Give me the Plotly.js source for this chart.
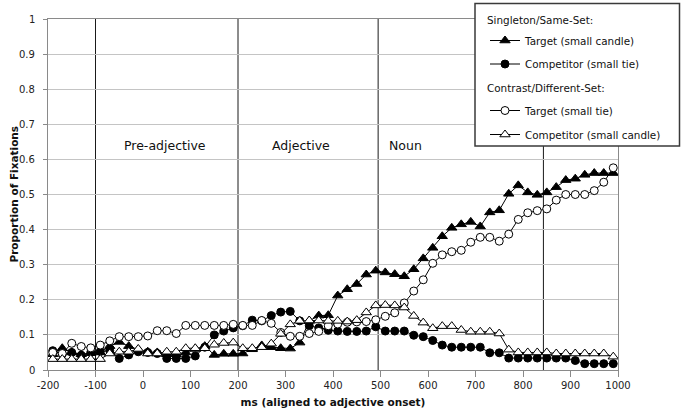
<!DOCTYPE html>
<html>
<head>
<meta charset="utf-8">
<script src="https://cdn.plot.ly/plotly-3.0.1.min.js"></script>
<style>
html,body{margin:0;padding:0;background:#fff;}
#chart{width:683px;height:414px;}
</style>
</head>
<body>
<div id="chart"></div>
<script>
// ---- data ----
const timeMs = [-190,-170,-150,-130,-110,-90,-70,-50,-30,-10,10,30,50,70,90,110,130,150,170,190,
  210,230,250,270,290,310,330,350,370,390,410,430,450,470,490,510,530,550,570,590,
  610,630,650,670,690,710,730,750,770,790,810,830,850,870,890,910,930,950,970,990];

const ssTarget = [0.045,0.062,0.05,0.045,0.048,0.05,0.068,0.08,0.068,0.058,0.052,0.05,0.045,0.045,0.05,0.06,0.068,0.043,0.046,0.046,
  0.047,0.059,0.07,0.065,0.062,0.061,0.078,0.14,0.155,0.156,0.212,0.23,0.245,0.272,0.283,0.278,0.273,0.267,0.287,0.318,
  0.348,0.381,0.405,0.415,0.422,0.409,0.449,0.455,0.502,0.526,0.506,0.499,0.506,0.521,0.541,0.545,0.556,0.561,0.561,0.561];

const ssCompetitor = [0.055,0.045,0.05,0.042,0.05,0.053,0.055,0.033,0.043,0.052,0.05,0.047,0.033,0.033,0.033,0.04,0.065,0.1,0.111,0.12,
  0.126,0.142,0.14,0.155,0.165,0.167,0.14,0.126,0.12,0.113,0.111,0.11,0.11,0.111,0.123,0.111,0.111,0.111,0.099,0.095,
  0.084,0.071,0.065,0.065,0.065,0.065,0.049,0.049,0.034,0.034,0.034,0.034,0.034,0.034,0.034,0.027,0.018,0.018,0.018,0.018];

const cdTarget = [0.05,0.047,0.076,0.067,0.063,0.071,0.083,0.095,0.095,0.095,0.097,0.112,0.112,0.104,0.127,0.127,0.127,0.127,0.127,0.13,
  0.127,0.127,0.141,0.133,0.107,0.096,0.096,0.104,0.11,0.126,0.131,0.136,0.137,0.138,0.143,0.153,0.163,0.191,0.225,0.257,
  0.304,0.328,0.337,0.341,0.364,0.378,0.378,0.367,0.387,0.429,0.448,0.454,0.459,0.484,0.5,0.5,0.5,0.511,0.535,0.576];

const cdCompetitor = [0.031,0.031,0.031,0.031,0.031,0.031,0.047,0.052,0.052,0.06,0.047,0.047,0.052,0.052,0.062,0.062,0.062,0.072,0.077,0.078,
  0.062,0.062,0.065,0.075,0.103,0.13,0.14,0.141,0.141,0.14,0.14,0.138,0.142,0.164,0.184,0.185,0.184,0.178,0.154,0.135,
  0.119,0.125,0.125,0.114,0.109,0.109,0.109,0.104,0.058,0.05,0.05,0.05,0.05,0.047,0.047,0.047,0.047,0.047,0.047,0.038];

const seriesNames = ["Target (small candle)","Competitor (small tie)","Target (small tie)","Competitor (small candle)"];
const groupTitles = ["Singleton/Same-Set:","Contrast/Different-Set:"];
const xTickVals = [-200,-100,0,100,200,300,400,500,600,700,800,900,1000];
const xTickText = ["-200","-100","0","100","200","300","400","500","600","700","800","900","1000"];
const yTickVals = [0,0.1,0.2,0.3,0.4,0.5,0.6,0.7,0.8,0.9,1];
const yTickText = ["0","0.1","0.2","0.3","0.4","0.5","0.6","0.7","0.8","0.9","1"];
const xTitle = "ms (aligned to adjective onset)";
const yTitle = "Proportion of Fixations";
const phaseBoundaries = [-100, 200, 495, 843];
const phaseLabels = ["Pre-adjective","Adjective","Noun"];
const phaseLabelX = [47, 332, 553];
const phaseLabelY = 0.641;

// ---- layout helpers (pixel -> paper) ----
const W = 683, H = 414;
const M = {l:48, r:65, t:19, b:44};
const pw = W - M.l - M.r, ph = H - M.t - M.b;
const px2x = p => (p - M.l) / pw;
const py2y = p => (H - M.b - p) / ph;

const FONT = "DejaVu Sans, Verdana, sans-serif";
const lineStyle = {color:'#000', width:1};

const markerDefs = [
  {symbol:'triangle-up', size:9, color:'#000', line:{color:'#000', width:1}},
  {symbol:'circle', size:8, color:'#000', line:{color:'#000', width:1}},
  {symbol:'circle', size:8, color:'#fff', line:{color:'#000', width:1}},
  {symbol:'triangle-up', size:9, color:'#fff', line:{color:'#000', width:1}}
];
const seriesVals = [ssTarget, ssCompetitor, cdTarget, cdCompetitor];
const legendIds = ['legend','legend2','legend3','legend4'];

const traces = seriesVals.map((vals, i) => ({
  type:'scatter', mode:'lines+markers',
  x: timeMs, y: vals, name: seriesNames[i],
  line: lineStyle, marker: markerDefs[i],
  legend: legendIds[i], showlegend:true, cliponaxis:false
}));

const itemCenters = [40.5, 64, 110.5, 134.5];
const headingCenters = [20, 88];
const legendLeftPx = 485;

const layout = {
  width: W, height: H,
  margin: M,
  paper_bgcolor:'#fff', plot_bgcolor:'#fff',
  font:{family:FONT, size:10, color:'#111'},
  xaxis:{
    range:[-200,1000], tickmode:'array', tickvals:xTickVals, ticktext:xTickText,
    showgrid:false, zeroline:false,
    showline:true, linecolor:'#8a8a8a', linewidth:1, mirror:true,
    ticks:'outside', ticklen:6, tickcolor:'#8a8a8a',
    tickfont:{family:FONT, size:10, color:'#222'},
    title:{text:'<b>' + xTitle + '</b>', font:{family:FONT, size:10.5, color:'#111'}, standoff:8}
  },
  yaxis:{
    range:[0,1], tickmode:'array', tickvals:yTickVals, showticklabels:false,
    showgrid:true, gridcolor:'#c4c4c4', gridwidth:1, zeroline:false,
    showline:true, linecolor:'#8a8a8a', linewidth:1, mirror:true,
    ticks:'outside', ticklen:4, tickcolor:'#8a8a8a'
  },
  shapes: [
    ...phaseBoundaries.map(b => ({type:'line', xref:'x', yref:'paper', x0:b, x1:b, y0:0, y1:1,
      line:{color:'#1a1a1a', width:1}, layer:'below'})),
    {type:'rect', xref:'paper', yref:'paper', x0:px2x(475), x1:px2x(679.5), y0:py2y(146), y1:py2y(3.5),
      fillcolor:'#fff', line:{color:'#3a3a3a', width:1.5}, layer:'above'}
  ],
  annotations: [
    ...yTickVals.map((v, i) => ({text:yTickText[i], xref:'paper', yref:'y', x:px2x(36.5), y:v,
      xanchor:'right', yanchor:'middle', showarrow:false, font:{family:FONT, size:10, color:'#222'}})),
    {text:'<b>' + yTitle + '</b>', xref:'paper', yref:'paper', x:px2x(13), y:0.5, textangle:-90,
      xanchor:'center', yanchor:'middle', showarrow:false, font:{family:FONT, size:10.5, color:'#111'}},
    ...phaseLabels.map((t, i) => ({text:t, x:phaseLabelX[i], y:phaseLabelY, xref:'x', yref:'y',
      showarrow:false, font:{family:FONT, size:12.5, color:'#111'}})),
    ...groupTitles.map((t, i) => ({text:t, xref:'paper', yref:'paper', x:px2x(485), y:py2y(headingCenters[i]),
      xanchor:'left', yanchor:'middle', showarrow:false, font:{family:FONT, size:10.4, color:'#111'}}))
  ],
  showlegend:true
};
legendIds.forEach((id, i) => {
  layout[id] = {x:px2x(legendLeftPx), y:py2y(itemCenters[i]), xanchor:'left', yanchor:'middle',
    bgcolor:'rgba(0,0,0,0)', borderwidth:0, font:{family:FONT, size:10.4, color:'#111'}, itemwidth:30};
});

Plotly.newPlot('chart', traces, layout, {staticPlot:true, displayModeBar:false});
</script>
</body>
</html>
